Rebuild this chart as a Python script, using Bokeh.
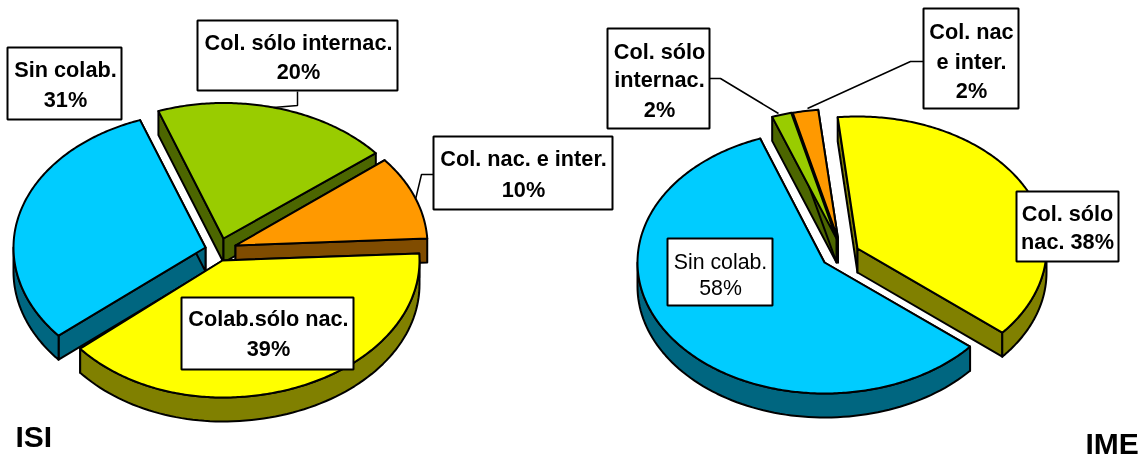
import numpy as np
from bokeh.plotting import figure
from bokeh.core.properties import value
from bokeh.embed import file_html
from bokeh.resources import INLINE

# ---- data (percent shares, clockwise) ----
isi_names = ["yellow", "blue", "green", "orange"]
isi_values = [39.7, 30.6, 19.7, 10.0]
ime_names = ["blue", "green", "orange", "yellow"]
ime_values = [58.3, 1.7, 2.2, 37.8]

top_colors = {"yellow": "#FFFF00", "blue": "#00CCFF", "green": "#99CC00", "orange": "#FF9900"}
side_colors = {"yellow": "#808000", "blue": "#006680", "green": "#4C6600", "orange": "#804C00"}

# ---- layout ----
W, H = 1143, 461
DEPTH = 24
FONT = "Liberation Sans"
LW = 2

isi_pie = dict(
    names=isi_names, values=isi_values, start=87,
    rxl=dict(blue=192, yellow=186, green=191, orange=190),
    rxr=dict(blue=195, yellow=197, green=196, orange=192),
    ryu=dict(blue=135.5, yellow=135.5, green=135.5, orange=135.5), ryl=137,
    apex=dict(yellow=(222, 260), blue=(205, 247), green=(223, 238), orange=(235, 245)),
    order=["green", "orange", "blue", "yellow"],
)
ime_pie = dict(
    names=ime_names, values=ime_values, start=130,
    rxl=dict(blue=187, yellow=187, green=187, orange=187),
    rxr=dict(blue=190, yellow=189, green=189, orange=189),
    ryu=dict(blue=132, yellow=132, green=129.5, orange=129.5), ryl=131,
    apex=dict(yellow=(857, 248), blue=(824, 262), green=(836, 238), orange=(837.5, 238)),
    order=["orange", "green", "yellow", "blue"],
)

# label boxes: left, top, right, bottom, centre x, lines [(text, y)], bold
labels = [
    (7, 47, 121, 119, 65, [("Sin colab.", 69), ("31%", 99)], True),
    (197, 20, 397, 90, 298, [("Col. sólo internac.", 42), ("20%", 71)], True),
    (433, 136, 612, 209, 523, [("Col. nac. e inter.", 158), ("10%", 189)], True),
    (181, 297, 353, 369, 268, [("Colab.sólo nac.", 318), ("39%", 348)], True),
    (607, 28, 709, 128, 659, [("Col. sólo", 51), ("internac.", 79), ("2%", 109)], True),
    (923, 8, 1018, 108, 971, [("Col. nac", 31), ("e inter.", 61), ("2%", 90)], True),
    (667, 238, 772, 305, 720, [("Sin colab.", 261), ("58%", 287)], False),
    (1016, 191, 1118, 261, 1067, [("Col. sólo", 213), ("nac. 38%", 241)], True),
]
leaders = [
    [(297, 91), (297, 105), (273, 107)],
    [(433, 174), (421, 174), (415, 199)],
    [(709, 78), (720, 78), (778, 113)],
    [(923, 61), (910, 61), (807, 108)],
]
titles = [("ISI", 15, 436), ("IME", 1085, 443)]

p = figure(width=W, height=H, x_range=(0, W), y_range=(H, 0), output_backend="svg",
           toolbar_location=None, min_border=0, outline_line_color=None,
           background_fill_color="white", border_fill_color="white")
p.axis.visible = False
p.grid.visible = False
p.styles = {"position": "fixed", "left": "0px", "top": "0px"}


def rim(pie, name, apex, theta):
    t = np.radians(np.asarray(theta, dtype=float))
    s, c = np.sin(t), np.cos(t)
    x = apex[0] + s * np.where(s >= 0, pie["rxr"][name], pie["rxl"][name])
    y = apex[1] - c * np.where(c >= 0, pie["ryu"][name], pie["ryl"])
    return x, y


def shape(xs, ys, fill):
    p.patch(list(xs), list(ys), fill_color=fill, line_color="black", line_width=LW, line_join="round")


def draw_pie(pie):
    angles = pie["start"] + np.concatenate([[0], np.cumsum(pie["values"])]) * 3.6
    span = {n: (angles[i], angles[i + 1]) for i, n in enumerate(pie["names"])}
    for name in pie["order"]:
        a0, a1 = span[name]
        apex = pie["apex"][name]
        side = side_colors[name]
        # radial faces
        for a in (a0, a1):
            ex, ey = rim(pie, name, apex, [a])
            shape([apex[0], ex[0], ex[0], apex[0]],
                  [apex[1], ey[0], ey[0] + DEPTH, apex[1] + DEPTH], side)
        # outer wall: only the part of the rim facing the viewer
        for k in (0, 360):
            lo, hi = max(a0, 90 + k), min(a1, 270 + k)
            if hi > lo:
                th = np.linspace(lo, hi, 80)
                wx, wy = rim(pie, name, apex, th)
                shape(np.r_[wx, wx[::-1]], np.r_[wy, wy[::-1] + DEPTH], side)
        # top
        th = np.linspace(a0, a1, max(4, int((a1 - a0) * 1.5)))
        tx, ty = rim(pie, name, apex, th)
        shape(np.r_[apex[0], tx], np.r_[apex[1], ty], top_colors[name])


draw_pie(isi_pie)
draw_pie(ime_pie)

for pts in leaders:
    p.line([q[0] for q in pts], [q[1] for q in pts], line_color="black", line_width=1.5)

for (l, t, r, b, cx, lines, bold) in labels:
    p.quad(left=[l], right=[r], top=[t], bottom=[b], fill_color="white", line_color="black", line_width=LW)
    for txt, y in lines:
        p.text([cx], [y], text=[txt], text_align="center", text_baseline="middle",
               text_font=value(FONT), text_font_size="21.7px" if bold else "21.3px",
               text_font_style="bold" if bold else "normal", text_color="black")

for txt, x, y in titles:
    p.text([x], [y], text=[txt], text_align="left", text_baseline="middle",
           text_font=value(FONT), text_font_size="30px", text_font_style="bold", text_color="black")

open("out.html", "w").write(file_html(p, INLINE))
